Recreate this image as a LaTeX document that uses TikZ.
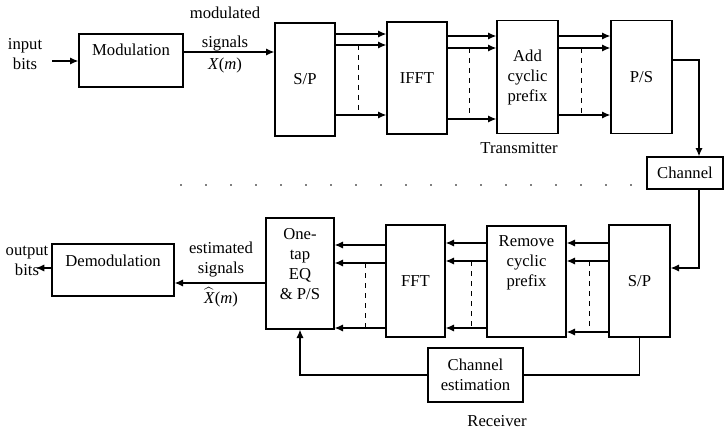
\documentclass[tikz,border=0pt]{standalone}
\usepackage{fontspec}
\setmainfont{Liberation Serif}
\usepackage{tikz}
\usetikzlibrary{arrows, arrows.meta}
\tikzset{block/.style = {shape = rectangle, draw, line width = 0.8pt, align = center, inner sep = 0pt, font = \rmfamily}}
\tikzset{lbl/.style = {align = center, inner sep = 0pt, font = \rmfamily}}
\tikzset{edge/.style = {->, > = {Latex[length = 5pt, width = 4.4pt]}, line width = 0.8pt}}
\tikzset{par/.style = {dashed, line width = 0.6pt}}

\begin{document}
\begin{tikzpicture}[x = 0.6pt, y = -0.6pt]
	\useasboundingbox (0, 0) rectangle (724, 429);

	\node[block, minimum width = 62.4pt, minimum height = 31.8pt] (mod) at (131, 60.5) {};
	\node[lbl] (modt) at (131, 50) {Modulation};
	\node[block, minimum width = 36pt, minimum height = 67.8pt] (sptx) at (305, 79.5) {S/P};
	\node[block, minimum width = 36pt, minimum height = 67.2pt] (ifft) at (417, 78) {IFFT};
	\node[block, minimum width = 36.6pt, minimum height = 67.8pt] (addcp) at (527.5, 77) {Add\\cyclic\\prefix};
	\node[block, minimum width = 36.6pt, minimum height = 67.8pt] (pstx) at (641.5, 77) {P/S};
	\node[block, minimum width = 45.6pt, minimum height = 19.2pt] (chan) at (685, 173) {Channel};

	\node[block, minimum width = 36.6pt, minimum height = 67.2pt] (sprx) at (639.5, 281) {S/P};
	\node[block, minimum width = 47.4pt, minimum height = 66.6pt] (rmcp) at (526.5, 281.5) {};
	\node[lbl] (rmcpt) at (526.5, 263) {Remove\\cyclic\\prefix};
	\node[block, minimum width = 35.4pt, minimum height = 67.2pt] (fft) at (415.5, 281) {FFT};
	\node[block, minimum width = 40.8pt, minimum height = 66.6pt] (eq) at (300, 273.5) {};
	\node[lbl] (eqt) at (300, 264) {One-\\tap\\EQ\\\& P/S};
	\node[block, minimum width = 57pt, minimum height = 32.4pt] (chest) at (475.5, 375) {Channel\\estimation};
	\node[block, minimum width = 73.2pt, minimum height = 31.2pt] (demod) at (113, 270) {};
	\node[lbl] (demodt) at (113, 261) {Demodulation};

	\node[lbl] (inb) at (25, 54) {input\\bits};
	\node[lbl] (modsig) at (225, 13) {modulated};
	\node[lbl] (sig) at (225, 44) {signals};
	\node[lbl] (xm) at (225, 65) {\textit{X}(\textit{m})};
	\node[lbl] (tx) at (519, 148) {Transmitter};
	\node[lbl] (estsig) at (221, 260) {estimated\\signals};
	\node[lbl] (xhat) at (221, 297) {$\widehat{\mbox{\textit{X}}}$(\textit{m})};
	\node[lbl] (outb) at (27, 261) {output\\bits};
	\node[lbl] (rx) at (497, 421) {Receiver};

	\coordinate (in) at (52, 61);
	\coordinate (out) at (36, 268);

	\draw[edge] (in) -- (mod.west |- in);
	\draw[edge] (mod.east |- 0, 52) -- (sptx.west |- 0, 52);
	\foreach \y in {34, 45, 115} \draw[edge] (sptx.east |- 0, \y) -- (ifft.west |- 0, \y);
	\foreach \y in {36, 48, 119} \draw[edge] (ifft.east |- 0, \y) -- (addcp.west |- 0, \y);
	\foreach \y in {36, 48, 115} \draw[edge] (addcp.east |- 0, \y) -- (pstx.west |- 0, \y);
	\draw[par] (358, 45) -- (358, 115);
	\draw[par] (469, 48) -- (469, 119);
	\draw[par] (581, 48) -- (581, 115);
	\draw[edge] (pstx.east |- 0, 60) -| (chan.north -| 699, 0);
	\draw[edge] (chan.south -| 699, 0) |- (sprx.east |- 0, 268);

	\foreach \y in {243, 261, 332} \draw[edge] (sprx.west |- 0, \y) -- (rmcp.east |- 0, \y);
	\foreach \y in {243, 261, 328} \draw[edge] (rmcp.west |- 0, \y) -- (fft.east |- 0, \y);
	\foreach \y in {245, 263, 328} \draw[edge] (fft.west |- 0, \y) -- (eq.east |- 0, \y);
	\draw[par] (589, 261) -- (589, 332);
	\draw[par] (471, 261) -- (471, 328);
	\draw[par] (365, 263) -- (365, 328);
	\draw[line width = 0.8pt] (sprx.south) |- (chest.east);
	\draw[edge] (chest.west) -| (eq.south);
	\draw[edge] (eq.west |- 0, 283) -- (demod.east |- 0, 283);
	\draw[edge] (demod.west |- out) -- (out);

	\draw[gray, line width = 0.8pt, dash pattern = on 1pt off 14pt] (180, 185) -- (640, 185);
\end{tikzpicture}
\end{document}
